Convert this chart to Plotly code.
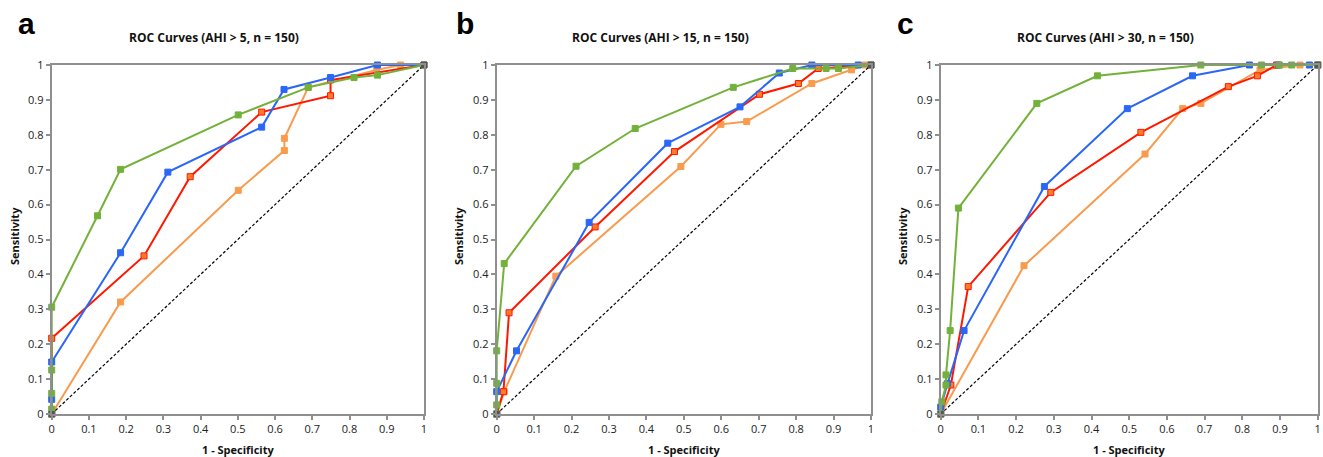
import plotly.graph_objects as go

# ---- data (x = 1 - specificity, y = sensitivity) ----
panel_letters = ["a", "b", "c"]
panel_titles = ["ROC Curves (AHI > 5, n = 150)",
                "ROC Curves (AHI > 15, n = 150)",
                "ROC Curves (AHI > 30, n = 150)"]

# panel a
a_orange_x = [0, 0.185, 0.501, 0.625, 0.625, 0.689, 0.873, 0.937, 1]
a_orange_y = [0, 0.321, 0.641, 0.755, 0.790, 0.936, 0.986, 1.0, 1.0]
a_red_x = [0, 0, 0.248, 0.372, 0.564, 0.749, 0.749, 1]
a_red_y = [0, 0.217, 0.453, 0.680, 0.865, 0.912, 0.957, 1]
a_blue_x = [0, 0, 0, 0.185, 0.312, 0.564, 0.624, 0.749, 0.875, 1]
a_blue_y = [0, 0.042, 0.149, 0.462, 0.693, 0.822, 0.930, 0.964, 1.0, 1.0]
a_green_x = [0, 0, 0, 0, 0, 0.123, 0.185, 0.501, 0.689, 0.812, 0.875, 1]
a_green_y = [0, 0.014, 0.059, 0.126, 0.306, 0.568, 0.701, 0.857, 0.936, 0.964, 0.971, 1]

# panel b
b_orange_x = [0, 0.020, 0.158, 0.492, 0.599, 0.668, 0.842, 0.948, 0.984, 1]
b_orange_y = [0, 0.064, 0.395, 0.709, 0.830, 0.838, 0.947, 0.986, 1.0, 1]
b_red_x = [0, 0.018, 0.033, 0.263, 0.475, 0.702, 0.806, 0.859, 1]
b_red_y = [0, 0.064, 0.290, 0.536, 0.752, 0.916, 0.947, 0.990, 1]
b_blue_x = [0, 0, 0.053, 0.247, 0.457, 0.650, 0.755, 0.842, 0.966, 1]
b_blue_y = [0, 0.064, 0.181, 0.549, 0.776, 0.880, 0.977, 1.0, 1.0, 1]
b_green_x = [0, 0, 0, 0, 0.020, 0.212, 0.370, 0.632, 0.791, 0.880, 0.913, 1]
b_green_y = [0, 0.026, 0.088, 0.181, 0.431, 0.710, 0.818, 0.936, 0.990, 0.990, 0.990, 1]

# panel c
c_orange_x = [0, 0.221, 0.542, 0.642, 0.690, 0.847, 0.953, 1]
c_orange_y = [0, 0.425, 0.745, 0.875, 0.890, 0.986, 1.0, 1]
c_red_x = [0, 0.027, 0.073, 0.292, 0.531, 0.763, 0.840, 0.891, 1]
c_red_y = [0, 0.083, 0.365, 0.635, 0.807, 0.938, 0.969, 1.0, 1]
c_blue_x = [0, 0, 0.018, 0.062, 0.275, 0.495, 0.668, 0.819, 0.896, 0.978, 1]
c_blue_y = [0, 0.020, 0.087, 0.239, 0.652, 0.875, 0.969, 1, 1, 1, 1]
c_green_x = [0, 0.003, 0.014, 0.014, 0.025, 0.047, 0.255, 0.416, 0.690, 0.851, 0.898, 0.931, 1]
c_green_y = [0, 0.035, 0.083, 0.112, 0.239, 0.590, 0.890, 0.969, 1, 1, 1, 1, 1]

chance_x = [0, 1]
chance_y = [0, 1]

panels = [
    [(a_orange_x, a_orange_y), (a_red_x, a_red_y), (a_blue_x, a_blue_y), (a_green_x, a_green_y)],
    [(b_orange_x, b_orange_y), (b_red_x, b_red_y), (b_blue_x, b_blue_y), (b_green_x, b_green_y)],
    [(c_orange_x, c_orange_y), (c_red_x, c_red_y), (c_blue_x, c_blue_y), (c_green_x, c_green_y)],
]

# ---- styling ----
W, H = 1323, 457
line_colors = ["#F99B4E", "#FF1800", "#2B67F6", "#72B13A"]
marker_fill = ["#F99B4E", "#FF7A2A", "#2B67F6", "#72B13A"]
axis_grey = "#8f8f8f"
font_fam = "Open Sans, DejaVu Sans, sans-serif"


def px_x(p):
    return p / W


def px_y(p):
    return 1 - p / H


# pixel positions of the plot boxes
x_px = [(51.7, 424.0), (496.7, 871.0), (940.7, 1317.7)]
y_px = (65.0, 414.0)  # top (y=1), bottom (y=0)
title_cx = [214, 660, 1105]
ytitle_cx = [14, 458, 902]
letter_cx = [26, 465, 906]

fig = go.Figure()

for i, series in enumerate(panels):
    ax = "" if i == 0 else str(i + 1)
    for k, (xs, ys) in enumerate(series):
        fig.add_trace(go.Scatter(
            x=xs, y=ys, mode="lines+markers",
            xaxis="x" + ax, yaxis="y" + ax,
            line=dict(color=line_colors[k], width=2),
            marker=dict(symbol="square", size=6, color=marker_fill[k],
                        line=dict(color=line_colors[k], width=1)),
            cliponaxis=False, showlegend=False, hoverinfo="x+y"))
    # chance diagonal
    fig.add_trace(go.Scatter(
        x=chance_x, y=chance_y, mode="lines+markers",
        xaxis="x" + ax, yaxis="y" + ax,
        line=dict(color="black", width=1.2, dash="3px,2px"),
        marker=dict(symbol="square", size=6, color="#555555"),
        cliponaxis=False, showlegend=False, hoverinfo="skip"))

axis_style = dict(range=[0, 1], dtick=0.1, showgrid=False, zeroline=False, automargin=False,
                  showline=True, linecolor=axis_grey, linewidth=2, mirror=True,
                  ticks="outside", ticklen=4, tickwidth=1.5, tickcolor=axis_grey,
                  ticklabeloverflow="allow",
                  tickfont=dict(family=font_fam, size=11, color="#222222"))

ydom = [px_y(y_px[1]), px_y(y_px[0])]
layout_axes = {}
annotations = []
for i in range(3):
    suffix = "" if i == 0 else str(i + 1)
    layout_axes["xaxis" + suffix] = dict(axis_style, domain=[px_x(x_px[i][0]), px_x(x_px[i][1])],
                                         anchor="y" + suffix)
    layout_axes["yaxis" + suffix] = dict(axis_style, domain=ydom, anchor="x" + suffix)
    cx = (x_px[i][0] + x_px[i][1]) / 2
    common = dict(xref="paper", yref="paper", showarrow=False, xanchor="center", yanchor="middle")
    annotations += [
        dict(common, text="<b>" + panel_titles[i] + "</b>", x=px_x(title_cx[i]), y=px_y(38),
             font=dict(family=font_fam, size=12, color="#111111")),
        dict(common, text="<b>1 - Specificity</b>", x=px_x(cx), y=px_y(449),
             font=dict(family=font_fam, size=11, color="#111111")),
        dict(common, text="<b>Sensitivity</b>", x=px_x(ytitle_cx[i]), y=px_y(236), textangle=-90,
             font=dict(family=font_fam, size=11, color="#111111")),
        dict(common, text="<b>" + panel_letters[i] + "</b>", x=px_x(letter_cx[i]), y=px_y(24),
             font=dict(family="Liberation Sans, Arial, sans-serif", size=30, color="black")),
    ]

fig.update_layout(
    width=W, height=H,
    margin=dict(l=0, r=0, t=0, b=0),
    paper_bgcolor="white", plot_bgcolor="white",
    annotations=annotations,
    **layout_axes,
)

# drop the browser's default 8px body margin so the figure fills the window exactly
fig.write_html("out.html", config={"displayModeBar": False},
               post_script="document.body.style.margin='0';"
                           "document.body.style.overflow='hidden';")
